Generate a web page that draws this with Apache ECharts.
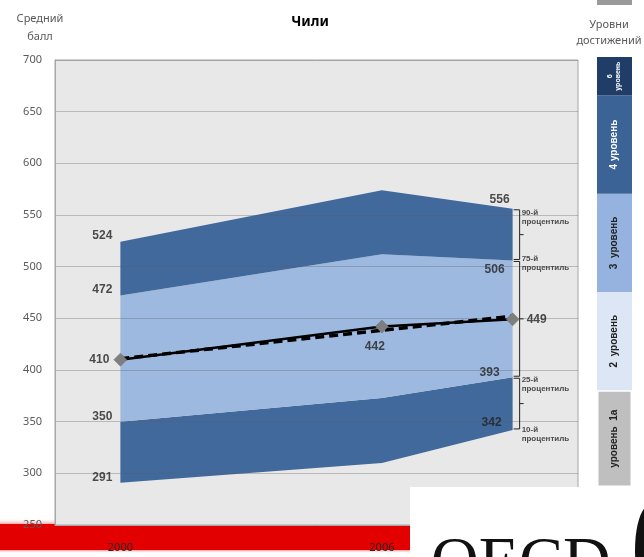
<!DOCTYPE html>
<html><head><meta charset="utf-8">
<script src="https://cdn.jsdelivr.net/npm/echarts@6/dist/echarts.min.js"></script>
<style>html,body{margin:0;padding:0;background:#fff}#c{width:644px;height:557px}</style>
</head><body><div id="c"></div>
<script>
// ---- data ----
const years = [2000, 2006, 2009];
const p10  = [291, 310, 342];
const p25  = [350, 373, 393];
const mean = [410, 442, 449];
const p75  = [472, 512, 506];
const p90  = [524, 574, 556];
const trendYears = [2000, 2009];
const trend = [411, 452];
const pctNames = ['90-й\nпроцентиль', '75-й\nпроцентиль', '25-й\nпроцентиль', '10-й\nпроцентиль'];
const levelNames = ['уровень  1а', '2  уровень', '3  уровень', '4 уровень', '6\nуровень'];
const levelLow  = [334.75, 407.47, 480.18, 552.89, 625.61];
const levelHigh = [407.47, 480.18, 552.89, 625.61, 698.32];

// ---- styles ----
const DARK = '#41699B', LIGHT = '#9DB9DF';
const bandLow = [p10, p25, p75], bandHigh = [p25, p75, p90];
const bandColors = [DARK, LIGHT, DARK];
const levelColors = ['#BFBFBF', '#DCE6F4', '#95B3DE', '#3B6396', '#1F3D66'];
const levelText = ['#222', '#222', '#222', '#fff', '#fff'];
const last = years.length - 1;

const chart = echarts.init(document.getElementById('c'));

function bandItem(params, api) {
  const i = api.value(2);
  const hi = bandHigh[i], lo = bandLow[i];
  const pts = [];
  for (let k = 0; k < years.length; k++) pts.push(api.coord([years[k], hi[k]]));
  for (let k = years.length - 1; k >= 0; k--) pts.push(api.coord([years[k], lo[k]]));
  return { type: 'polygon', shape: { points: pts }, style: { fill: bandColors[i] } };
}

function bracketItem(params, api) {
  const x = api.value(0), lo = api.value(1), hi = api.value(2);
  const t = api.coord([x, hi]), b = api.coord([x, lo]);
  const x0 = t[0] + 1, xv = t[0] + 7;
  const yt = t[1] + 1, yb = b[1] - 1;
  return {
    type: 'polyline',
    shape: { points: [[x0, yt], [xv, yt], [xv, yb], [x0, yb]] },
    style: { stroke: '#222', lineWidth: 1, fill: null }
  };
}
function bracketTick(params, api) {
  const x = api.value(0), lo = api.value(1), hi = api.value(2);
  const t = api.coord([x, hi]), b = api.coord([x, lo]);
  const xv = t[0] + 7, ym = (t[1] + b[1]) / 2;
  return { type: 'line', shape: { x1: xv, y1: ym, x2: xv + 4, y2: ym }, style: { stroke: '#222', lineWidth: 1 } };
}

function levelItem(params, api) {
  const lo = api.value(0), hi = api.value(1), i = api.value(2);
  const a = api.coord([0, hi]), b = api.coord([1, lo]);
  const top = Math.max(a[1], params.coordSys.y);
  const bot = Math.min(b[1], params.coordSys.y + params.coordSys.height);
  const small = i === levelNames.length - 1;
  return {
    type: 'group',
    children: [
      { type: 'rect', shape: { x: a[0], y: top, width: b[0] - a[0], height: bot - top },
        style: { fill: levelColors[i], stroke: i === 0 ? '#fff' : null, lineWidth: i === 0 ? 3 : 0 } },
      { type: 'text', x: (a[0] + b[0]) / 2, y: (top + bot) / 2, rotation: Math.PI / 2,
        style: { text: levelNames[i], fill: levelText[i], align: 'center', verticalAlign: 'middle',
                 font: 'bold ' + (small ? 7 : 10) + 'px "Liberation Sans", Arial, sans-serif',
                 lineHeight: small ? 8 : 12 } }
    ]
  };
}

// value labels
const valueLabels = [];
function addLabel(x, y, pos, off) {
  valueLabels.push({ value: [x, y], label: { position: pos, offset: off } });
}
addLabel(years[0], p90[0], 'left', [0, -6]);
addLabel(years[0], p75[0], 'left', [0, -6]);
addLabel(years[0], mean[0], 'left', [-3, 0]);
addLabel(years[0], p25[0], 'left', [0, -5]);
addLabel(years[0], p10[0], 'left', [0, -5]);
addLabel(years[1], mean[1], 'bottom', [-7, 6]);
addLabel(years[last], p90[last], 'left', [5, -9]);
addLabel(years[last], p75[last], 'left', [0, 9]);
addLabel(years[last], mean[last], 'right', [6, 0]);
addLabel(years[last], p25[last], 'left', [-5, -5]);
addLabel(years[last], p10[last], 'left', [-3, -7]);

const pctVals = [p90[last], p75[last], p25[last], p10[last]];
const pctOffsets = [[0, 8], [0, 3], [0, 7], [0, 4]];
const pctData = pctVals.map((v, i) => ({ value: [years[last], v], name: pctNames[i], label: { offset: pctOffsets[i] } }));

const brackets = [
  [years[last], p75[last], p90[last]],
  [years[last], p25[last], p75[last]],
  [years[last], p10[last], p25[last]]
];

const option = {
  animation: false,
  backgroundColor: 'transparent',
  grid: [
    { left: 55, top: 60, width: 523, height: 465, show: true, backgroundColor: '#E8E8E8', borderColor: '#A6A6A6', borderWidth: 1 },
    { left: 597, top: 57, width: 35, height: 430 }
  ],
  xAxis: [
    { gridIndex: 0, type: 'value', min: 1998.5, max: 2010.5, z: 3,
      splitLine: { show: false }, axisTick: { show: false },
      axisLine: { show: true, lineStyle: { color: '#A6A6A6' } },
      axisLabel: { customValues: years, color: '#262626', fontSize: 11, margin: 17,
                   fontFamily: '"Noto Sans", sans-serif', formatter: v => String(v) } },
    { gridIndex: 1, type: 'value', min: 0, max: 1, show: false }
  ],
  yAxis: [
    { gridIndex: 0, type: 'value', min: 250, max: 700, interval: 50, z: 3,
      axisLine: { show: true, lineStyle: { color: '#A6A6A6' } }, axisTick: { show: false },
      splitLine: { lineStyle: { color: 'rgba(90,90,90,0.33)', width: 1 } },
      axisLabel: { color: '#595959', fontSize: 11, margin: 13, fontFamily: '"Noto Sans", sans-serif' } },
    { gridIndex: 1, type: 'value', min: 336, max: 654, show: false }
  ],
  series: [
    { type: 'custom', name: 'bands', xAxisIndex: 0, yAxisIndex: 0, z: 1, clip: true,
      renderItem: bandItem,
      data: bandColors.map((c, i) => [years[0], bandLow[i][0], i]) },
    { type: 'line', name: 'trend', z: 5, symbol: 'none',
      data: trendYears.map((y, i) => [y, trend[i]]),
      lineStyle: { color: '#000', width: 3.5, type: [9, 5] } },
    { type: 'line', name: 'mean', z: 6, symbol: 'diamond', symbolSize: 13,
      data: years.map((y, i) => [y, mean[i]]),
      itemStyle: { color: '#7F7F7F', borderColor: '#6a6a6a', borderWidth: 0.5 },
      lineStyle: { color: '#000', width: 2.5 } },
    { type: 'custom', name: 'brackets', z: 6, renderItem: bracketItem, data: brackets },
    { type: 'custom', name: 'bracketTicks', z: 6, renderItem: bracketTick, data: brackets },
    { type: 'scatter', name: 'valueLabels', z: 7, symbolSize: 0, data: valueLabels,
      label: { show: true, distance: 8, formatter: p => String(p.value[1]), color: '#222',
               fontSize: 12, fontWeight: 'bold', fontFamily: '"Liberation Sans", Arial, sans-serif' } },
    { type: 'scatter', name: 'pctLabels', z: 7, symbolSize: 0, data: pctData,
      label: { show: true, position: 'right', distance: 9, formatter: p => p.name, color: '#222',
               fontSize: 8, lineHeight: 9, fontWeight: 'bold', fontFamily: '"Liberation Sans", Arial, sans-serif' } },
    { type: 'custom', name: 'levels', xAxisIndex: 1, yAxisIndex: 1, clip: true, renderItem: levelItem,
      data: levelLow.map((lo, i) => [lo, levelHigh[i], i]), encode: { y: [0, 1] } }
  ],
  graphic: { elements: [
    { type: 'rect', zlevel: -1, shape: { x: 0, y: 524, width: 410, height: 26 }, style: { fill: '#E30000' } },
    { type: 'rect', zlevel: -1, shape: { x: 0, y: 519, width: 410, height: 5 },
      style: { fill: new echarts.graphic.LinearGradient(0, 0, 0, 1, [{ offset: 0, color: 'rgba(245,190,190,0)' }, { offset: 1, color: 'rgba(235,120,120,0.6)' }]) } },
    { type: 'rect', zlevel: -1, shape: { x: 0, y: 550, width: 410, height: 3 },
      style: { fill: new echarts.graphic.LinearGradient(0, 0, 0, 1, [{ offset: 0, color: 'rgba(235,90,90,0.6)' }, { offset: 1, color: 'rgba(245,190,190,0)' }]) } },
    { type: 'rect', z: 0, shape: { x: 597, y: 0, width: 35, height: 5 }, style: { fill: '#9a9a9a' } },
    { type: 'text', x: 310, y: 22, style: { text: 'Чили', align: 'center', verticalAlign: 'middle',
      font: 'bold 14px "Noto Sans", sans-serif', fill: '#000' } },
    { type: 'text', x: 40, y: 28, style: { text: 'Средний\nбалл', align: 'center', verticalAlign: 'middle',
      font: '11px "Noto Sans", sans-serif', fill: '#595959', lineHeight: 18 } },
    { type: 'text', x: 609, y: 33, style: { text: 'Уровни\nдостижений', align: 'center', verticalAlign: 'middle',
      font: '11px "Noto Sans", sans-serif', fill: '#595959', lineHeight: 16 } },
    { type: 'rect', z: 100, shape: { x: 410, y: 487, width: 234, height: 70 }, style: { fill: '#fff' } },
    { type: 'text', z: 101, x: 431, y: 565, style: { text: 'OECD', align: 'left', verticalAlign: 'middle',
      font: '66px "Liberation Serif", "DejaVu Serif", serif', fill: '#111' } },
    { type: 'ellipse', z: 101, shape: { cx: 650, cy: 550, rx: 15, ry: 45 }, style: { fill: '#111' } }
  ] }
};
chart.setOption(option);
</script>
</body></html>
